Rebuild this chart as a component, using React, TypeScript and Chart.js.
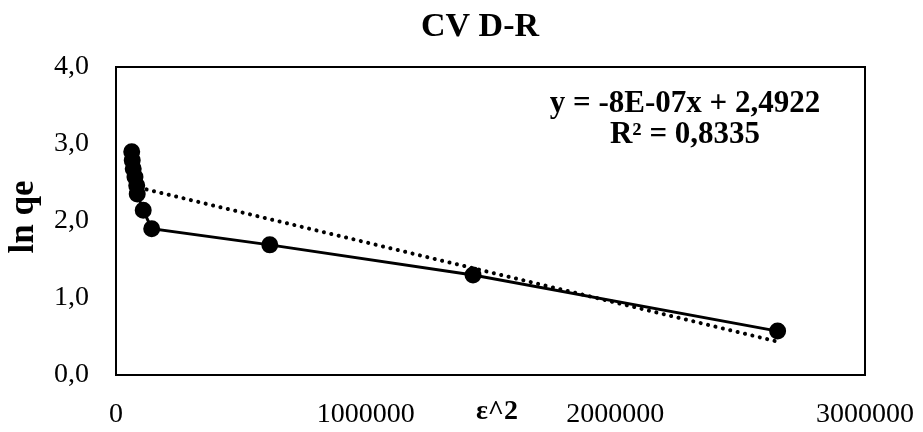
import React, { useEffect, useRef } from "react";
import { Chart, registerables } from "chart.js";

Chart.register(...registerables);

const epsilonSquared = [63000, 65000, 69000, 76000, 83000, 85000, 109000, 143000, 616000, 1430000, 2650000];
const lnQe = [2.9, 2.79, 2.68, 2.57, 2.46, 2.35, 2.14, 1.9, 1.69, 1.3, 0.57];
const equationLabel = "y = -8E-07x + 2,4922";
const r2Label = "R² = 0,8335";
const chartTitle = "CV D-R";
const xAxisTitle = "ε^2";
const yAxisTitle = "ln qe";
const yTicks = [0, 1, 2, 3, 4];
const xTicks = [0, 1000000, 2000000, 3000000];

const SERIF = "'Liberation Serif', 'Times New Roman', Times, serif";

function linearFit(xs: number[], ys: number[]) {
  const n = xs.length;
  const mx = xs.reduce((a, b) => a + b, 0) / n;
  const my = ys.reduce((a, b) => a + b, 0) / n;
  let sxy = 0;
  let sxx = 0;
  for (let i = 0; i < n; i++) {
    sxy += (xs[i] - mx) * (ys[i] - my);
    sxx += (xs[i] - mx) * (xs[i] - mx);
  }
  const slope = sxy / sxx;
  return { slope, intercept: my - slope * mx };
}

export default function App() {
  const ref = useRef<HTMLCanvasElement | null>(null);

  useEffect(() => {
    document.body.style.margin = "0";
    const canvas = ref.current;
    if (!canvas) return;

    const fit = linearFit(epsilonSquared, lnQe);
    const xMin = Math.min(...epsilonSquared);
    const xMax = Math.max(...epsilonSquared);
    const trend = [
      { x: xMin, y: fit.intercept + fit.slope * xMin },
      { x: xMax, y: fit.intercept + fit.slope * xMax },
    ];

    const textPlugin = {
      id: "textPlugin",
      beforeDatasetsDraw(chart: any) {
        const { ctx, chartArea } = chart;
        ctx.save();
        ctx.strokeStyle = "#000";
        ctx.lineWidth = 2;
        ctx.strokeRect(chartArea.left, chartArea.top, chartArea.right - chartArea.left, chartArea.bottom - chartArea.top);
        ctx.restore();
      },
      afterDraw(chart: any) {
        const { ctx } = chart;
        ctx.save();
        ctx.fillStyle = "#000";
        ctx.textAlign = "center";
        ctx.textBaseline = "middle";
        ctx.font = `bold 34px ${SERIF}`;
        ctx.fillText(chartTitle, 480, 27);
        ctx.font = `bold 28px ${SERIF}`;
        ctx.fillText(xAxisTitle, 497, 412);
        ctx.save();
        ctx.font = `bold 35px ${SERIF}`;
        ctx.translate(24, 217);
        ctx.rotate(-Math.PI / 2);
        ctx.fillText(yAxisTitle, 0, 0);
        ctx.restore();
        ctx.font = `bold 31px ${SERIF}`;
        ctx.fillText(equationLabel, 685, 104);
        ctx.fillText(r2Label, 685, 135);
        ctx.restore();
      },
    };

    const chart = new Chart(canvas, {
      type: "scatter",
      data: {
        datasets: [
          {
            label: "ln qe",
            data: epsilonSquared.map((x, i) => ({ x, y: lnQe[i] })),
            showLine: true,
            borderColor: "#000",
            backgroundColor: "#000",
            borderWidth: 3,
            pointRadius: 7,
            pointBackgroundColor: "#000",
            pointBorderColor: "#000",
            order: 1,
          },
          {
            label: "trend",
            data: trend,
            showLine: true,
            borderColor: "#000",
            borderWidth: 4,
            borderDash: [0.1, 7.5],
            borderCapStyle: "round",
            pointRadius: 0,
            order: 2,
          },
        ],
      },
      options: {
        animation: false,
        responsive: false,
        maintainAspectRatio: false,
        layout: { padding: { left: 0, right: 58, top: 67, bottom: 0 } },
        plugins: {
          legend: { display: false },
          tooltip: { enabled: false },
          title: { display: false },
        },
        scales: {
          x: {
            type: "linear",
            min: 0,
            max: 3000000,
            afterBuildTicks(scale: any) {
              scale.ticks = xTicks.map((v) => ({ value: v }));
            },
            afterFit(scale: any) {
              scale.height = 57;
              scale.paddingLeft = 0;
              scale.paddingRight = 0;
            },
            grid: { display: false, drawTicks: false },
            border: { display: false },
            ticks: {
              color: "#000",
              padding: 23,
              maxRotation: 0,
              autoSkip: false,
              font: { family: SERIF, size: 28 },
              callback: (v: any) => String(v),
            },
          },
          y: {
            type: "linear",
            min: 0,
            max: 4,
            afterBuildTicks(scale: any) {
              scale.ticks = yTicks.map((v) => ({ value: v }));
            },
            afterFit(scale: any) {
              scale.width = 116;
              scale.paddingTop = 0;
              scale.paddingBottom = 0;
            },
            grid: { display: false, drawTicks: false },
            border: { display: false },
            ticks: {
              color: "#000",
              padding: 27,
              font: { family: SERIF, size: 28 },
              callback: (v: any) => Number(v).toFixed(1).replace(".", ","),
            },
          },
        },
      },
      plugins: [textPlugin],
    } as any);

    return () => chart.destroy();
  }, []);

  return (
    <div style={{ position: "absolute", left: 0, top: 0, width: 923, height: 432 }}>
      <canvas ref={ref} width={923} height={432} style={{ width: 923, height: 432 }} />
    </div>
  );
}
